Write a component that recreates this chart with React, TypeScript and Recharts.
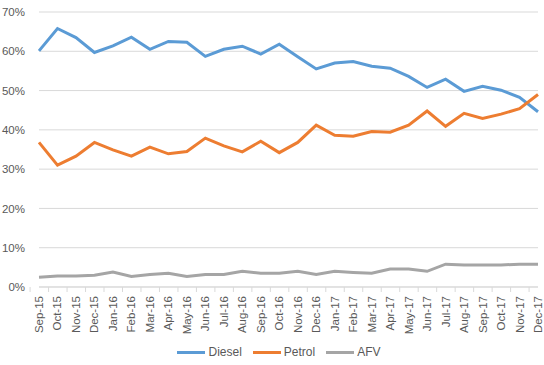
import React from "react"
import { LineChart, Line, XAxis, YAxis, CartesianGrid, Legend } from "recharts"

const months = [
  "Sep-15", "Oct-15", "Nov-15", "Dec-15", "Jan-16", "Feb-16", "Mar-16", "Apr-16", "May-16", "Jun-16",
  "Jul-16", "Aug-16", "Sep-16", "Oct-16", "Nov-16", "Dec-16", "Jan-17", "Feb-17", "Mar-17", "Apr-17",
  "May-17", "Jun-17", "Jul-17", "Aug-17", "Sep-17", "Oct-17", "Nov-17", "Dec-17",
]

const diesel = [
  60.1, 65.8, 63.5, 59.7, 61.4, 63.6, 60.5, 62.5, 62.3, 58.7,
  60.5, 61.3, 59.3, 61.8, 58.6, 55.5, 57.0, 57.4, 56.2, 55.7,
  53.6, 50.8, 52.9, 49.8, 51.1, 50.1, 48.3, 44.6,
]

const petrol = [
  36.8, 31.0, 33.3, 36.8, 34.9, 33.3, 35.6, 33.9, 34.5, 37.9,
  35.9, 34.4, 37.1, 34.2, 36.8, 41.2, 38.6, 38.4, 39.6, 39.4,
  41.2, 44.8, 40.9, 44.2, 42.9, 44.0, 45.4, 49.0,
]

const afv = [
  2.5, 2.8, 2.8, 3.0, 3.8, 2.7, 3.2, 3.5, 2.7, 3.2,
  3.2, 4.0, 3.5, 3.5, 4.0, 3.2, 4.0, 3.7, 3.5, 4.6,
  4.6, 4.0, 5.8, 5.6, 5.6, 5.6, 5.8, 5.8,
]

const yTicks = [0, 10, 20, 30, 40, 50, 60, 70]

const series = [
  { key: "Diesel", color: "#5B9BD5" },
  { key: "Petrol", color: "#ED7D31" },
  { key: "AFV", color: "#A5A5A5" },
]

const data = months.map((m, i) => ({
  month: m,
  Diesel: diesel[i],
  Petrol: petrol[i],
  AFV: afv[i],
}))

const FONT = "'Liberation Sans', Arial, sans-serif"
const TEXT = "#595959"
const GRID = "#D9D9D9"

const WIDTH = 544
const HEIGHT = 365
const PLOT_LEFT = 39
const PLOT_RIGHT = 6
const BAND = (WIDTH - PLOT_LEFT - PLOT_RIGHT) / months.length

function MonthTick(props: any) {
  const { x, y, payload, index } = props
  const last = index === months.length - 1
  return (
    <g>
      <line x1={x - BAND / 2} x2={x - BAND / 2} y1={y - 8} y2={y - 3} stroke={GRID} />
      {last && <line x1={x + BAND / 2} x2={x + BAND / 2} y1={y - 8} y2={y - 3} stroke={GRID} />}
      <text
        x={0}
        y={0}
        transform={`translate(${x + 4},${y + 1}) rotate(-90)`}
        textAnchor="end"
        fill={TEXT}
        fontSize={11.5}
        fontFamily={FONT}
      >
        {payload.value}
      </text>
    </g>
  )
}

// legend drawn like Excel: thick line swatch then label
function LegendContent() {
  return (
    <div style={{ display: "flex", justifyContent: "center", gap: 11, fontFamily: FONT, fontSize: 12, color: TEXT, paddingLeft: 20 }}>
      {series.map((s) => (
        <div key={s.key} style={{ display: "flex", alignItems: "center", gap: 3 }}>
          <span style={{ display: "inline-block", width: 28, height: 3, background: s.color }} />
          <span>{s.key}</span>
        </div>
      ))}
    </div>
  )
}

export default function App() {
  return (
    <div style={{ position: "absolute", left: 0, top: 0, width: WIDTH, height: HEIGHT, background: "#fff" }}>
      <LineChart width={WIDTH} height={HEIGHT} data={data} margin={{ top: 12, right: PLOT_RIGHT, left: 0, bottom: 0 }}>
        <CartesianGrid vertical={false} stroke={GRID} />
        <XAxis
          dataKey="month"
          interval={0}
          height={58}
          tickLine={false}
          axisLine={{ stroke: GRID }}
          tick={<MonthTick />}
        />
        <YAxis
          width={PLOT_LEFT}
          domain={[0, 70]}
          ticks={yTicks}
          tickFormatter={(v) => `${v}%`}
          axisLine={false}
          tickLine={false}
          tick={{ fill: TEXT, fontSize: 11.5, fontFamily: FONT }}
          tickMargin={8}
        />
        <Legend verticalAlign="bottom" height={20} content={<LegendContent />} />
        {series.map((s) => (
          <Line
            key={s.key}
            type="linear"
            dataKey={s.key}
            stroke={s.color}
            strokeWidth={3}
            dot={false}
            isAnimationActive={false}
          />
        ))}
      </LineChart>
    </div>
  )
}
